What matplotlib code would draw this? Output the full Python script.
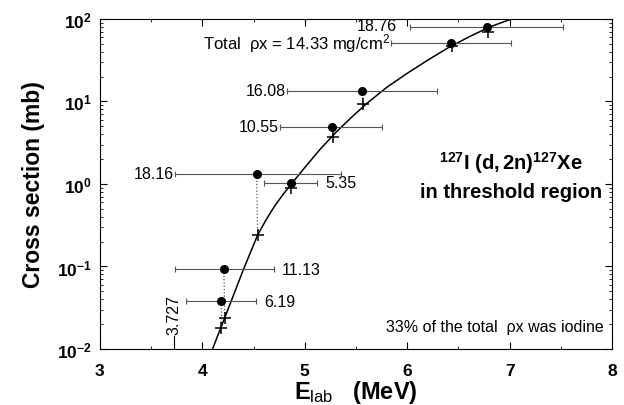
import numpy as np
import matplotlib
matplotlib.use("Agg")
import matplotlib.pyplot as plt
from matplotlib.ticker import FixedLocator, LogLocator, NullFormatter

plt.rcParams['font.family'] = ['Liberation Sans', 'DejaVu Sans']
plt.rcParams['mathtext.fontset'] = 'custom'
plt.rcParams['mathtext.rm'] = 'Liberation Sans'
plt.rcParams['mathtext.bf'] = 'Liberation Sans:bold'
plt.rcParams['mathtext.it'] = 'Liberation Sans:italic'

# measured points: energy, cross section, energy spread, target thickness label
e_meas = [6.78, 6.43, 5.56, 5.27, 4.53, 4.87, 4.21, 4.18]
sig_meas = [80, 51, 13.4, 4.9, 1.32, 1.03, 0.093, 0.038]
e_lo = [6.03, 5.84, 4.83, 4.76, 3.73, 4.60, 3.73, 3.84]
e_hi = [7.52, 7.01, 6.29, 5.75, 5.35, 5.12, 4.70, 4.52]
thick = ['18.76', '', '16.08', '10.55', '18.16', '5.35', '11.13', '6.19']

# corrected points (crosses) on the calculated curve
e_calc = [6.79, 6.44, 5.57, 5.28, 4.54, 4.87, 4.22, 4.18]
sig_calc = [69, 47, 9.3, 3.7, 0.24, 0.9, 0.024, 0.018]

# calculated excitation function
curve_e = [4.10, 4.25, 4.40, 4.54, 4.62, 4.70, 4.78, 4.87, 5.00, 5.15,
           5.30, 5.45, 5.60, 5.80, 6.00, 6.20, 6.40, 6.60, 6.80, 7.02]
curve_sig = [0.01, 0.030, 0.091, 0.24, 0.363, 0.525, 0.724, 1.0, 1.58, 2.63,
             4.17, 6.31, 9.33, 14.8, 21.9, 31.6, 44.7, 60.3, 79.4, 100]

threshold = 3.727

fig = plt.figure(figsize=(6.24, 4.06), dpi=100)
ax = fig.add_axes([0.160, 0.138, 0.821, 0.813])
ax.set_yscale('log')
ax.set_xlim(3, 8)
ax.set_ylim(1e-2, 1e2)

ax.plot(curve_e, curve_sig, color='black', lw=1.1, zorder=3)

for i in range(len(e_meas)):
    ax.errorbar(e_meas[i], sig_meas[i],
                xerr=[[e_meas[i] - e_lo[i]], [e_hi[i] - e_meas[i]]],
                fmt='o', color='black', ms=5.5, ecolor='#555555',
                elinewidth=0.8, capsize=2.5, capthick=0.8, zorder=4)
    ax.plot([e_meas[i], e_calc[i]], [sig_meas[i], sig_calc[i]],
            ls=':', color='#555555', lw=0.9, zorder=2)
ax.plot(e_calc, sig_calc, '+', color='black', ms=8, mew=1.1, zorder=5)

# labels with target thickness
lab_fs = 11.5
for i in [2, 3, 4]:
    ax.text(e_lo[i] - 0.01, sig_meas[i], thick[i], ha='right', va='center',
            fontsize=lab_fs)
for i in [5, 6, 7]:
    ax.text(e_hi[i] + 0.08, sig_meas[i], thick[i], ha='left', va='center',
            fontsize=lab_fs)
ax.text(5.90, 84, thick[0], ha='right', va='center', fontsize=lab_fs)
ax.text(5.83, 51, 'Total  \u03c1x = 14.33 mg/cm$^2$', ha='right', va='center',
        fontsize=12)

# reaction threshold
ax.plot([threshold, threshold], [1e-2, 0.0145], color='black', lw=0.8)
ax.text(threshold, 0.0152, '3.727', rotation=90, ha='center', va='bottom',
        fontsize=lab_fs)

ax.text(7.01, 1.85, r'$\mathbf{^{127}I\ (d,2n)^{127}Xe}$', ha='center',
        va='center', fontsize=14.5)
ax.text(7.01, 0.82, 'in threshold region', ha='center', va='center',
        fontsize=14.5, fontweight='bold')
ax.text(7.92, 0.0188, '33% of the total  \u03c1x was iodine', ha='right',
        va='center', fontsize=11.5)

ax.set_xticks([3, 4, 5, 6, 7, 8])
ax.xaxis.set_minor_locator(FixedLocator([3.5, 4.5, 5.5, 6.5, 7.5]))
ax.set_yticks([1e-2, 1e-1, 1, 10, 100])
ax.set_yticklabels([r'$\mathbf{10^{-2}}$', r'$\mathbf{10^{-1}}$',
                    r'$\mathbf{10^{0}}$', r'$\mathbf{10^{1}}$',
                    r'$\mathbf{10^{2}}$'])
ax.yaxis.set_minor_locator(LogLocator(base=10, subs=np.arange(2, 10)))
ax.yaxis.set_minor_formatter(NullFormatter())
ax.tick_params(which='both', direction='in', top=True, right=True)
ax.tick_params(which='major', length=5, labelsize=12.5)
ax.tick_params(axis='x', which='major', pad=10)
ax.tick_params(axis='y', which='major', pad=6)
ax.tick_params(which='minor', length=2.5)
for lbl in ax.get_xticklabels():
    lbl.set_fontweight('bold')

ax.set_ylabel('Cross section (mb)', fontsize=16.5, fontweight='bold',
              labelpad=8)
ax.set_xlabel(r'$\mathbf{E}_{\mathrm{lab}}$   $\mathbf{(MeV)}$', fontsize=17,
              labelpad=0)

fig.savefig('out.png', dpi=100)
